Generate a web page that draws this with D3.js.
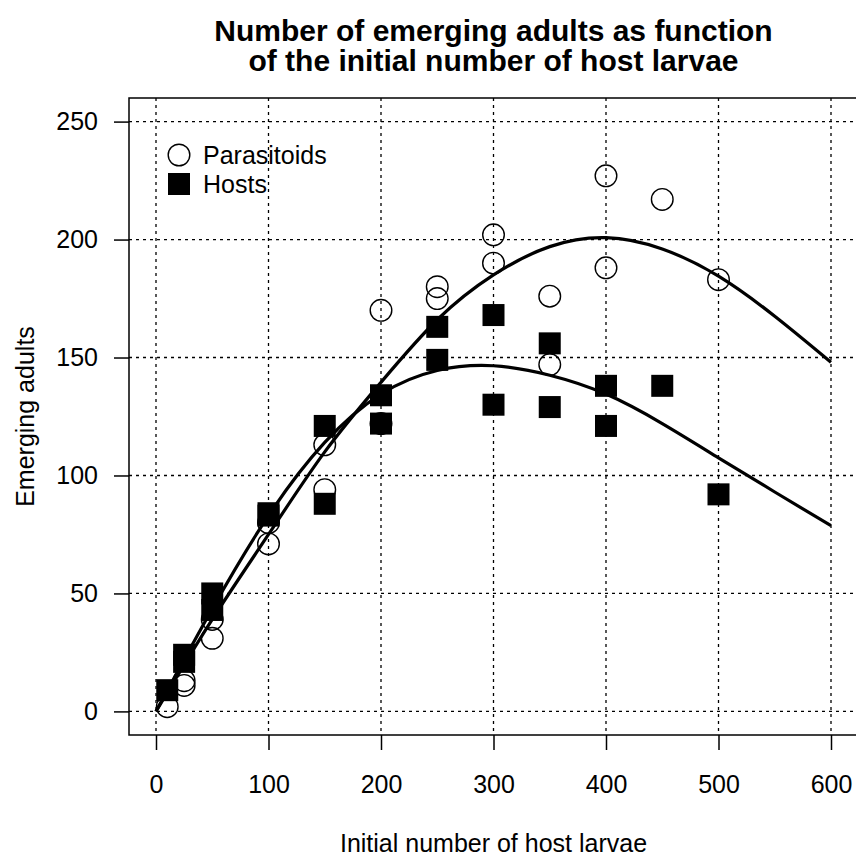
<!DOCTYPE html>
<html lang="en">
<head>
<meta charset="UTF-8">
<title>Emerging adults</title>
<script src="https://d3js.org/d3.v7.min.js"></script>
<style>
  body { margin: 0; background: #fff; }
  svg { display: block; font-family: "Liberation Sans", Arial, sans-serif; }
</style>
</head>
<body>
<svg width="856" height="861"></svg>
<script>
// observed counts
var paraX = [10, 25, 25, 50, 50, 100, 100, 150, 150, 200, 200, 250, 250, 300, 300, 350, 350, 400, 400, 450, 500];
var paraY = [2, 11, 13, 31, 39, 71, 80, 94, 113, 122, 170, 175, 180, 190, 202, 147, 176, 188, 227, 217, 183];
var hostX = [10, 25, 25, 50, 50, 100, 100, 150, 150, 200, 200, 250, 250, 300, 300, 350, 350, 400, 400, 450, 500];
var hostY = [9, 21, 24, 43, 50, 83, 84, 88, 121, 122, 134, 149, 163, 130, 168, 129, 156, 121, 138, 138, 92];

// fitted curves
var fitX = [0, 50, 100, 150, 200, 250, 300, 350, 400, 450, 500, 550, 600];
var paraFit = [0, 39, 75, 110, 139.5, 166, 185, 197, 200.8, 196, 184.5, 167.5, 148];
var hostFit = [0, 43.5, 83, 114, 134.5, 144.5, 146.5, 142.5, 134.5, 122, 107.5, 93, 78.7];

var xTicks = [0, 100, 200, 300, 400, 500, 600];
var yTicks = [0, 50, 100, 150, 200, 250];
var legendLabels = ["Parasitoids", "Hosts"];

var pLeft = 129, pRight = 858, pTop = 98, pBottom = 735;

var svg = d3.select("svg");
var x = d3.scaleLinear().domain([-24, 624]).range([pLeft, pRight]);
var y = d3.scaleLinear().domain([-10, 260]).range([pBottom, pTop]);

// grid
var grid = svg.append("g")
    .attr("stroke", "#000")
    .attr("stroke-width", 1.3)
    .attr("stroke-dasharray", "3,4");
grid.selectAll(".gx").data(xTicks).enter().append("line")
    .attr("x1", d => x(d)).attr("x2", d => x(d))
    .attr("y1", pTop).attr("y2", pBottom);
grid.selectAll(".gy").data(yTicks).enter().append("line")
    .attr("x1", pLeft).attr("x2", pRight)
    .attr("y1", d => y(d)).attr("y2", d => y(d));

// axes
var xAxis = svg.append("g")
    .attr("transform", "translate(0," + pBottom + ")")
    .call(d3.axisBottom(x).tickValues(xTicks).tickSize(15).tickPadding(25).tickSizeOuter(0));
var yAxis = svg.append("g")
    .attr("transform", "translate(" + pLeft + ",0)")
    .call(d3.axisLeft(y).tickValues(yTicks).tickSize(15).tickPadding(16).tickSizeOuter(0));
[xAxis, yAxis].forEach(a => {
    a.select(".domain").remove();
    a.selectAll("line").attr("stroke", "#000").attr("stroke-width", 1.5);
    a.selectAll("text").attr("fill", "#000").style("font-size", "25px")
        .style("font-family", "Liberation Sans, Arial, sans-serif");
});

// box
svg.append("rect")
    .attr("x", pLeft).attr("y", pTop)
    .attr("width", pRight - pLeft).attr("height", pBottom - pTop)
    .attr("fill", "none").attr("stroke", "#000").attr("stroke-width", 1.5);

// points
svg.append("g").selectAll("circle")
    .data(paraX.map((d, i) => [d, paraY[i]]))
    .enter().append("circle")
    .attr("cx", d => x(d[0])).attr("cy", d => y(d[1]))
    .attr("r", 10.8)
    .attr("fill", "none").attr("stroke", "#000").attr("stroke-width", 1.4);

var sq = 22;
svg.append("g").selectAll("rect")
    .data(hostX.map((d, i) => [d, hostY[i]]))
    .enter().append("rect")
    .attr("x", d => x(d[0]) - sq / 2).attr("y", d => y(d[1]) - sq / 2)
    .attr("width", sq).attr("height", sq)
    .attr("fill", "#000");

// fitted lines
var line = d3.line().x(d => x(d[0])).y(d => y(d[1])).curve(d3.curveNatural);
[paraFit, hostFit].forEach(f => {
    svg.append("path")
        .datum(fitX.map((d, i) => [d, f[i]]))
        .attr("d", line)
        .attr("fill", "none").attr("stroke", "#000").attr("stroke-width", 3.2);
});

// legend
var lg = svg.append("g").attr("transform", "translate(179,155)");
lg.append("circle").attr("cx", 0).attr("cy", 0).attr("r", 10.8)
    .attr("fill", "none").attr("stroke", "#000").attr("stroke-width", 1.4);
lg.append("rect").attr("x", -sq / 2).attr("y", 29 - sq / 2)
    .attr("width", sq).attr("height", sq).attr("fill", "#000");
lg.selectAll("text").data(legendLabels).enter().append("text")
    .attr("x", 24).attr("y", (d, i) => i * 29)
    .attr("dy", "0.35em")
    .style("font-size", "25px")
    .text(d => d);

// titles
var cx = (pLeft + pRight) / 2;
svg.append("text").attr("x", cx).attr("y", 41)
    .attr("text-anchor", "middle").style("font-size", "30px").style("font-weight", "bold")
    .text("Number of emerging adults as function");
svg.append("text").attr("x", cx).attr("y", 71)
    .attr("text-anchor", "middle").style("font-size", "30px").style("font-weight", "bold")
    .text("of the initial number of host larvae");

svg.append("text").attr("x", cx).attr("y", 852)
    .attr("text-anchor", "middle").style("font-size", "25px")
    .text("Initial number of host larvae");
svg.append("text")
    .attr("transform", "translate(34," + ((pTop + pBottom) / 2) + ") rotate(-90)")
    .attr("text-anchor", "middle").style("font-size", "25px")
    .text("Emerging adults");
</script>
</body>
</html>
